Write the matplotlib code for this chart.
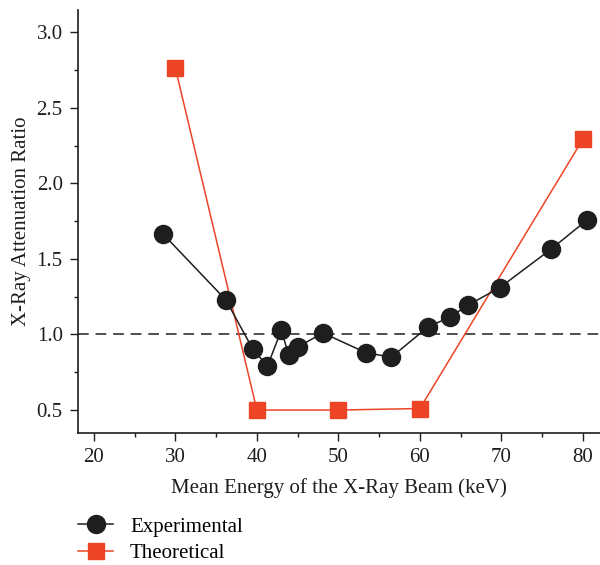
import numpy as np
import matplotlib.pyplot as plt
from matplotlib.ticker import MultipleLocator

# measured attenuation ratios
exp_energy = [28.5, 36.2, 39.5, 41.3, 43.0, 43.9, 45.0, 48.1, 53.4, 56.5,
              61.0, 63.7, 65.9, 69.8, 76.1, 80.5]
exp_ratio = [1.664, 1.228, 0.903, 0.791, 1.029, 0.864, 0.917, 1.01, 0.879, 0.85,
             1.05, 1.115, 1.194, 1.31, 1.565, 1.757]

# calculated ratios
theo_energy = [30, 40, 50, 60, 80]
theo_ratio = [2.762, 0.5, 0.5, 0.51, 2.292]

plt.rcParams['font.family'] = ['Liberation Serif', 'DejaVu Serif']
plt.rcParams['font.size'] = 15

black = '#1e1e1e'
red = '#ee4426'

fig = plt.figure(figsize=(6, 5.65), dpi=100)
ax = fig.add_axes([0.13, 0.2336, 0.87, 0.7484])

ax.axhline(1.0, color=black, lw=1.1, ls=(0, (7, 4.5)), zorder=1)
ax.plot(theo_energy, theo_ratio, color=red, lw=1.1, marker='s', ms=11,
        markeredgecolor=red, label='Theoretical', zorder=2)
ax.plot(exp_energy, exp_ratio, color=black, lw=1.1, marker='o', ms=13,
        label='Experimental', zorder=3)

ax.set_xlim(18.05, 82.1)
ax.set_ylim(0.348, 3.146)
ax.xaxis.set_major_locator(MultipleLocator(10))
ax.xaxis.set_minor_locator(MultipleLocator(5))
ax.yaxis.set_major_locator(MultipleLocator(0.5))
ax.yaxis.set_minor_locator(MultipleLocator(0.25))
ax.tick_params(which='major', length=6, width=1, color=black, labelcolor=black, pad=5)
ax.tick_params(which='minor', length=3, width=1, color=black)
ax.yaxis.set_major_formatter(plt.FormatStrFormatter('%.1f'))

for s in ['top', 'right']:
    ax.spines[s].set_visible(False)
for s in ['left', 'bottom']:
    ax.spines[s].set_color(black)
    ax.spines[s].set_linewidth(1.2)

ax.set_xlabel('Mean Energy of the X-Ray Beam (keV)', color=black, labelpad=8)
ax.set_ylabel('X-Ray Attenuation Ratio', color=black, labelpad=4)

handles, labels = ax.get_legend_handles_labels()
fig.legend(handles[::-1], labels[::-1], loc='upper left',
           bbox_to_anchor=(0.13, 0.085), frameon=False, borderpad=0,
           borderaxespad=0, handlelength=1.7, handletextpad=0.8,
           labelspacing=0.35, fontsize=15)

fig.savefig('out.png', dpi=100)
